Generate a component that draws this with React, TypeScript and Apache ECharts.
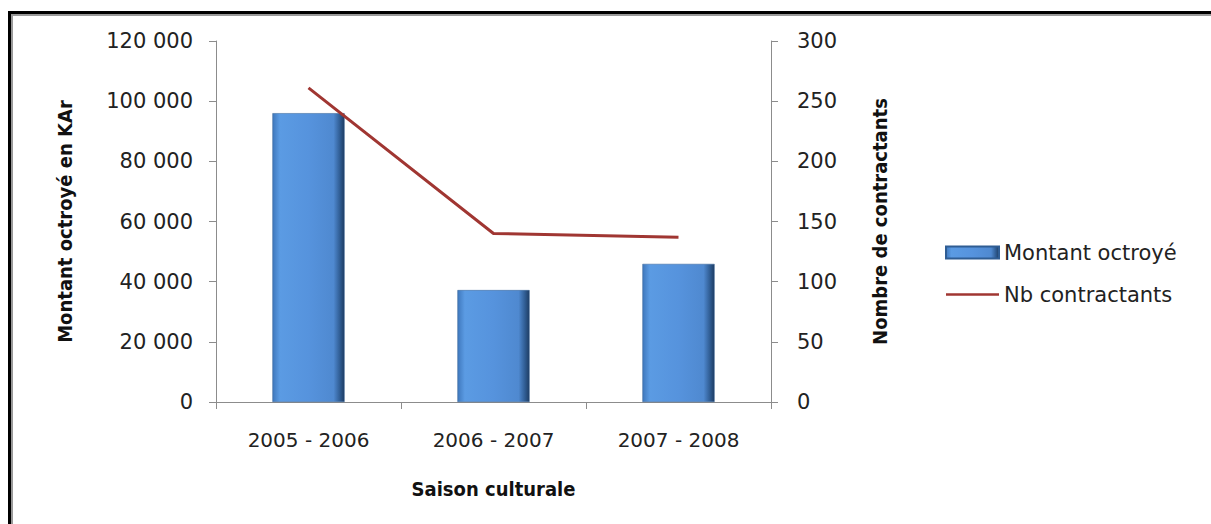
import React, { useEffect, useRef } from "react";
import * as echarts from "echarts";

const categories = ["2005 - 2006", "2006 - 2007", "2007 - 2008"];
const montantOctroye = [96000, 37200, 45900];
const nbContractants = [261, 140, 137];
const leftTicks = { min: 0, max: 120000, interval: 20000 };
const rightTicks = { min: 0, max: 300, interval: 50 };

const FONT = "'DejaVu Sans', sans-serif";
const TITLE_FONT = "'DejaVu Sans Condensed', 'DejaVu Sans', sans-serif";

function fmt(v: number) {
  return String(v).replace(/\B(?=(\d{3})+(?!\d))/g, " ");
}

export default function App() {
  const ref = useRef<HTMLDivElement>(null);
  useEffect(() => {
    if (!ref.current) return;
    const chart = echarts.init(ref.current, null, { renderer: "svg" });
    const barGrad = new echarts.graphic.LinearGradient(0, 0, 1, 0, [
      { offset: 0, color: "#3f78bd" },
      { offset: 0.1, color: "#5b9be3" },
      { offset: 0.5, color: "#5693dd" },
      { offset: 0.85, color: "#4f89d0" },
      { offset: 0.94, color: "#2f5c92" },
      { offset: 1, color: "#1e3d63" },
    ]);
    const titleStyle = { fontSize: 20, fontWeight: 600, color: "#111", fontFamily: TITLE_FONT };
    chart.setOption({
      animation: false,
      backgroundColor: "#ffffff",
      textStyle: { fontFamily: FONT },
      grid: { left: 216, right: 440, top: 41, bottom: 122, containLabel: false },
      legend: {
        left: 940,
        top: 237,
        orient: "vertical",
        itemGap: 21,
        itemWidth: 53,
        itemHeight: 12,
        textStyle: { fontSize: 21, color: "#222", fontFamily: FONT },
        data: [
          { name: "Montant octroyé", icon: "rect" },
          { name: "Nb contractants", icon: "path://M0,0 L20,0 L20,1 L0,1 Z", itemStyle: { color: "#a03632" } },
        ],
      },
      xAxis: {
        type: "category",
        data: categories,
        axisLine: { show: true, lineStyle: { color: "#8c8c8c", width: 1 } },
        axisTick: { show: true, alignWithLabel: false, length: 7, lineStyle: { color: "#8c8c8c" } },
        axisLabel: { margin: 28, fontSize: 20, color: "#222", fontFamily: FONT },
        name: "Saison culturale",
        nameLocation: "middle",
        nameGap: 77,
        nameTextStyle: titleStyle,
      },
      yAxis: [
        {
          type: "value",
          min: leftTicks.min,
          max: leftTicks.max,
          interval: leftTicks.interval,
          position: "left",
          splitLine: { show: false },
          axisLine: { show: true, lineStyle: { color: "#8c8c8c" } },
          axisTick: { show: true, length: 7, lineStyle: { color: "#8c8c8c" } },
          axisLabel: { margin: 23, fontSize: 21, color: "#222", fontFamily: FONT, formatter: (v: number) => fmt(v) },
          name: "Montant octroyé en KAr",
          nameLocation: "middle",
          nameGap: 141,
          nameRotate: 90,
          nameTextStyle: titleStyle,
        },
        {
          type: "value",
          min: rightTicks.min,
          max: rightTicks.max,
          interval: rightTicks.interval,
          position: "right",
          splitLine: { show: false },
          axisLine: { show: true, lineStyle: { color: "#8c8c8c" } },
          axisTick: { show: true, length: 7, lineStyle: { color: "#8c8c8c" } },
          axisLabel: { margin: 26, fontSize: 21, color: "#222", fontFamily: FONT },
          name: "Nombre de contractants",
          nameLocation: "middle",
          nameGap: 99,
          nameRotate: 90,
          nameTextStyle: titleStyle,
        },
      ],
      series: [
        {
          name: "Montant octroyé",
          type: "bar",
          data: montantOctroye,
          yAxisIndex: 0,
          barWidth: "39%",
          itemStyle: { color: barGrad, borderColor: "#2f5d93", borderWidth: 0.5 },
        },
        {
          name: "Nb contractants",
          type: "line",
          data: nbContractants,
          yAxisIndex: 1,
          symbol: "none",
          lineStyle: { color: "#a03632", width: 3 },
          itemStyle: { color: "#a03632" },
        },
      ],
      graphic: [
        { type: "rect", shape: { x: 8, y: 11, width: 1220, height: 3 }, style: { fill: "#000" } },
        { type: "rect", shape: { x: 8, y: 14, width: 1220, height: 2 }, style: { fill: "#9a9a9a" } },
        { type: "rect", shape: { x: 8, y: 11, width: 3, height: 530 }, style: { fill: "#000" } },
        { type: "rect", shape: { x: 11, y: 14, width: 2, height: 530 }, style: { fill: "#9a9a9a" } },
      ],
    });
    return () => chart.dispose();
  }, []);
  return (
    <div
      ref={ref}
      style={{ position: "absolute", left: 0, top: 0, width: 1211, height: 524 }}
    />
  );
}
